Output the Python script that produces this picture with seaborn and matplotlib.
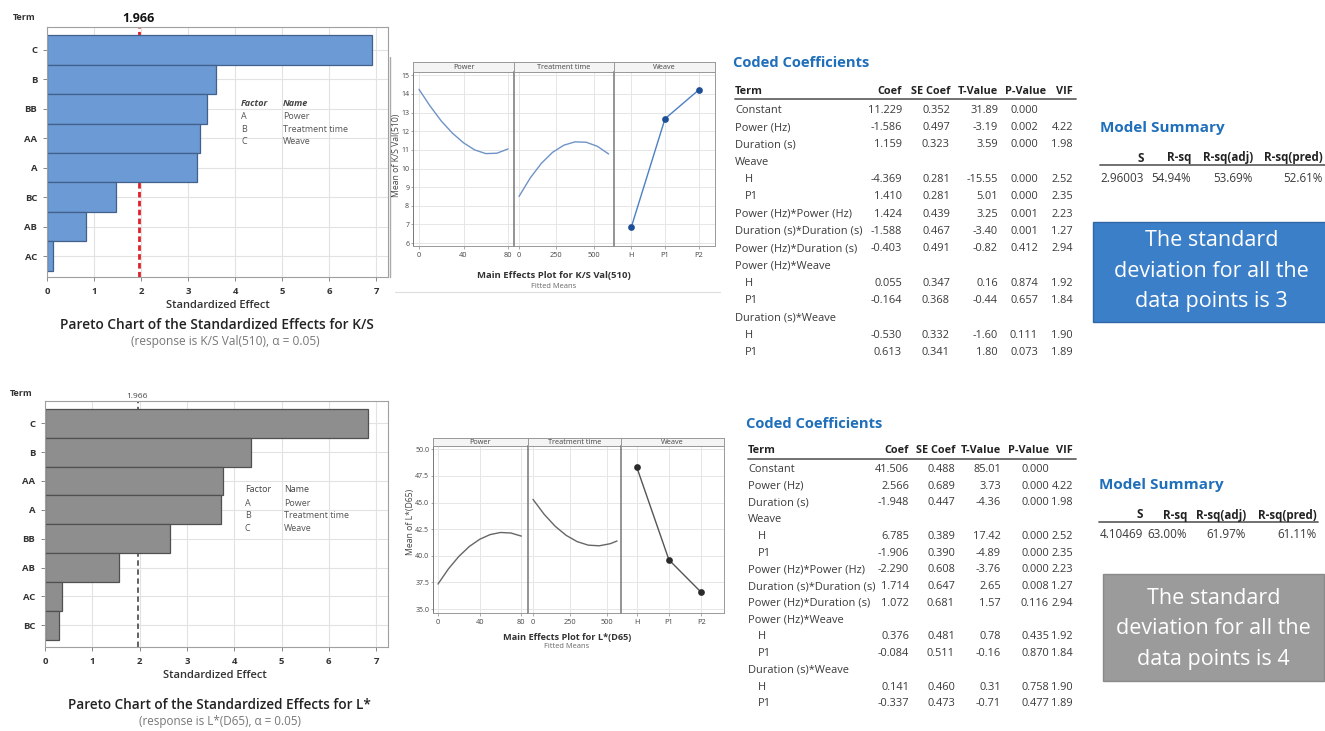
import matplotlib
matplotlib.use("Agg")
import matplotlib.pyplot as plt
from matplotlib.lines import Line2D
from matplotlib.patches import Rectangle
import seaborn as sns

# ---------------- data ----------------
factor_codes = ["A", "B", "C"]
factor_names = ["Power", "Treatment time", "Weave"]

ks_terms = ["C", "B", "BB", "AA", "A", "BC", "AB", "AC"]
ks_effects = [6.92, 3.59, 3.40, 3.25, 3.19, 1.47, 0.82, 0.13]
lstar_terms = ["C", "B", "AA", "A", "BB", "AB", "AC", "BC"]
lstar_effects = [6.82, 4.36, 3.76, 3.73, 2.65, 1.57, 0.35, 0.29]
critical_t = 1.966

power_levels = [0, 10, 20, 30, 40, 50, 60, 70, 80]
ks_power_fit = [14.25, 13.35, 12.55, 11.90, 11.38, 11.00, 10.80, 10.82, 11.05]
time_levels_ks = [0, 75, 150, 225, 300, 375, 450, 525, 600]
ks_time_fit = [8.50, 9.49, 10.28, 10.87, 11.25, 11.43, 11.41, 11.19, 10.78]
weave_levels = ["H", "P1", "P2"]
ks_weave_means = [6.84, 12.67, 14.22]

lstar_power_fit = [37.35, 38.77, 39.94, 40.87, 41.55, 41.99, 42.19, 42.14, 41.85]
time_levels_l = [0, 75, 150, 225, 300, 375, 450, 525, 570]
lstar_time_fit = [45.30, 43.91, 42.78, 41.92, 41.33, 41.00, 40.94, 41.14, 41.39]
lstar_weave_means = [48.38, 39.62, 36.56]

coef_terms = ["Constant", "Power (Hz)", "Duration (s)", "Weave", "H", "P1",
              "Power (Hz)*Power (Hz)", "Duration (s)*Duration (s)",
              "Power (Hz)*Duration (s)", "Power (Hz)*Weave", "H", "P1",
              "Duration (s)*Weave", "H", "P1"]
coef_indent = [0, 0, 0, 0, 1, 1, 0, 0, 0, 0, 1, 1, 0, 1, 1]

ks_coef = [11.229, -1.586, 1.159, None, -4.369, 1.410, 1.424, -1.588, -0.403, None, 0.055, -0.164, None, -0.530, 0.613]
ks_se = [0.352, 0.497, 0.323, None, 0.281, 0.281, 0.439, 0.467, 0.491, None, 0.347, 0.368, None, 0.332, 0.341]
ks_tval = [31.89, -3.19, 3.59, None, -15.55, 5.01, 3.25, -3.40, -0.82, None, 0.16, -0.44, None, -1.60, 1.80]
ks_pval = [0.000, 0.002, 0.000, None, 0.000, 0.000, 0.001, 0.001, 0.412, None, 0.874, 0.657, None, 0.111, 0.073]
ks_vif = [None, 4.22, 1.98, None, 2.52, 2.35, 2.23, 1.27, 2.94, None, 1.92, 1.84, None, 1.90, 1.89]

lstar_coef = [41.506, 2.566, -1.948, None, 6.785, -1.906, -2.290, 1.714, 1.072, None, 0.376, -0.084, None, 0.141, -0.337]
lstar_se = [0.488, 0.689, 0.447, None, 0.389, 0.390, 0.608, 0.647, 0.681, None, 0.481, 0.511, None, 0.460, 0.473]
lstar_tval = [85.01, 3.73, -4.36, None, 17.42, -4.89, -3.76, 2.65, 1.57, None, 0.78, -0.16, None, 0.31, -0.71]
lstar_pval = [0.000, 0.000, 0.000, None, 0.000, 0.000, 0.000, 0.008, 0.116, None, 0.435, 0.870, None, 0.758, 0.477]
lstar_vif = [None, 4.22, 1.98, None, 2.52, 2.35, 2.23, 1.27, 2.94, None, 1.92, 1.84, None, 1.90, 1.89]

summary_cols = ["S", "R-sq", "R-sq(adj)", "R-sq(pred)"]
ks_summary = ["2.96003", "54.94%", "53.69%", "52.61%"]
lstar_summary = ["4.10469", "63.00%", "61.97%", "61.11%"]
ks_note = "The standard\ndeviation for all the\ndata points is 3"
lstar_note = "The standard\ndeviation for all the\ndata points is 4"

# ---------------- figure ----------------
sns.set_theme(style="white")
plt.rcParams["font.family"] = ["Open Sans", "DejaVu Sans"]

W, H = 1325, 731
fig = plt.figure(figsize=(W / 100, H / 100), dpi=100)
fig.patch.set_facecolor("white")


def rect(x0, y0, x1, y1):
    return [x0 / W, 1 - y1 / H, (x1 - x0) / W, (y1 - y0) / H]


def txt(x, y, s, **kw):
    kw.setdefault("va", "center")
    kw.setdefault("color", "#333333")
    return fig.text(x / W, 1 - y / H, s, **kw)


def hline(x0, x1, y, color="#555555", lw=1.2):
    fig.add_artist(Line2D([x0 / W, x1 / W], [1 - y / H, 1 - y / H],
                          color=color, lw=lw, transform=fig.transFigure))


def vline(x, y0, y1, color="#999999", lw=1.0):
    fig.add_artist(Line2D([x / W, x / W], [1 - y0 / H, 1 - y1 / H],
                          color=color, lw=lw, transform=fig.transFigure))


# ---------------- Pareto charts ----------------
def pareto(box, terms, effects, ylim, fill, edge, line_kw, xmax):
    ax = fig.add_axes(rect(*box))
    sns.barplot(x=effects, y=terms, orient="h", color=fill, edgecolor=edge,
                linewidth=0.9, width=1.0, saturation=1, ax=ax)
    ax.set_axisbelow(True)
    ax.grid(True, color="#e2e2e2", lw=0.8)
    ax.axvline(critical_t, zorder=0.8, **line_kw)
    ax.set_xlim(0, xmax)
    ax.set_ylim(*ylim)
    ax.set_xticks(range(8))
    ax.set_xlabel("")
    ax.set_ylabel("")
    for s in ax.spines.values():
        s.set_color("#a0a0a0")
        s.set_linewidth(0.8)
    ax.tick_params(axis="both", length=3, width=0.7, color="#888888",
                   labelsize=6.8, labelcolor="#333333", pad=4, bottom=True, left=True)
    for lab in ax.get_yticklabels() + ax.get_xticklabels():
        lab.set_fontweight("bold")
    return ax


pareto((47, 27, 388, 277), ks_terms, ks_effects, (7.71, -0.78),
       "#6c9ad4", "#41618c",
       dict(color="#e0202a", lw=2.0, ls=(0, (2.0, 1.2))), 7.25)
txt(24, 18, "Term", ha="center", fontsize=6.5, fontweight="bold")
txt(138, 19, "1.966", ha="center", fontsize=9, fontweight="bold", color="#111111")
txt(241, 104, "Factor", fontsize=6.5, style="italic", fontweight="bold", color="#444444")
txt(283, 104, "Name", fontsize=6.5, style="italic", fontweight="bold", color="#444444")
for i, (c, n) in enumerate(zip(factor_codes, factor_names)):
    txt(241, 116.7 + 12.5 * i, c, fontsize=6.5, color="#555555")
    txt(283, 116.7 + 12.5 * i, n, fontsize=6.5, color="#555555")
txt(218, 305, "Standardized Effect", ha="center", fontsize=8, fontweight="semibold")
txt(217, 325, "Pareto Chart of the Standardized Effects for K/S", ha="center",
    fontsize=9.9, fontweight="semibold", color="#222222")
txt(225, 341, "(response is K/S Val(510), \u03b1 = 0.05)", ha="center",
    fontsize=8.6, color="#777777")

pareto((45, 401, 388, 647), lstar_terms, lstar_effects, (7.75, -0.77),
       "#8e8e8e", "#505050",
       dict(color="#555555", lw=1.3, ls=(0, (3, 2))), 7.25)
txt(21, 393, "Term", ha="center", fontsize=6.5, fontweight="bold")
txt(137, 396, "1.966", ha="center", fontsize=6, color="#444444")
txt(245, 490, "Factor", fontsize=6.5, color="#444444")
txt(284, 490, "Name", fontsize=6.5, color="#444444")
for i, (c, n) in enumerate(zip(factor_codes, factor_names)):
    txt(245, 503.3 + 12.5 * i, c, fontsize=6.5, color="#555555")
    txt(284, 503.3 + 12.5 * i, n, fontsize=6.5, color="#555555")
txt(215, 675, "Standardized Effect", ha="center", fontsize=8, fontweight="semibold")
txt(219, 705, "Pareto Chart of the Standardized Effects for L*", ha="center",
    fontsize=9.8, fontweight="semibold", color="#222222")
txt(220, 722, "(response is L*(D65), \u03b1 = 0.05)", ha="center",
    fontsize=8.4, color="#777777")


# ---------------- Main effects plots ----------------
def main_effects(xs, top, strip_h, bottom, ylim, yticks, ylabs, curves, weave,
                 xlims, xticks, line_col, marker_col, weave_line_col):
    axes = []
    for k in range(3):
        x0, x1 = xs[k], xs[k + 1]
        ax = fig.add_axes(rect(x0, top + strip_h, x1, bottom))
        if k < 2:
            lv, vals = curves[k]
            sns.lineplot(x=lv, y=vals, ax=ax, color=line_col, lw=1.0)
        else:
            sns.pointplot(x=weave_levels, y=weave, ax=ax, color=weave_line_col,
                          markers="", linewidth=1.0)
            sns.pointplot(x=weave_levels, y=weave, ax=ax, color=marker_col,
                          markers="o", linestyles="none", markersize=2.8)
        ax.set_xlim(*xlims[k])
        ax.set_ylim(*ylim)
        ax.set_yticks(yticks)
        if xticks[k] is not None:
            ax.set_xticks(xticks[k])
        ax.set_axisbelow(True)
        ax.grid(True, color="#e6e6e6", lw=0.7)
        ax.set_xlabel("")
        ax.set_ylabel("")
        for s in ax.spines.values():
            s.set_color("#999999")
            s.set_linewidth(0.7)
        ax.spines["left"].set_color("#777777")
        ax.spines["left"].set_linewidth(1.1 if k else 0.7)
        ax.tick_params(axis="x", labelsize=5.3, labelcolor="#444444",
                       length=2, width=0.5, color="#888888", pad=2.5, bottom=True)
        ax.tick_params(axis="y", labelsize=5.0, labelcolor="#444444",
                       length=1.5, width=0.5, color="#888888", pad=1.2,
                       left=(k == 0))
        if k == 0:
            ax.set_yticklabels(ylabs)
        else:
            ax.set_yticklabels([])
        # facet header
        sax = fig.add_axes(rect(x0, top, x1, top + strip_h))
        sax.set_facecolor("#f4f4f4")
        sax.set_xticks([])
        sax.set_yticks([])
        for s in sax.spines.values():
            s.set_color("#999999")
            s.set_linewidth(0.7)
        sax.text(0.5, 0.45, factor_names[k], ha="center", va="center",
                 fontsize=5.2, color="#444444", transform=sax.transAxes)
        axes.append(ax)
    return axes


main_effects([413, 514, 614, 715], 62, 10, 246, (5.84, 15.18),
             list(range(6, 16)), [str(v) for v in range(6, 16)],
             [(power_levels, ks_power_fit), (time_levels_ks, ks_time_fit)],
             ks_weave_means,
             [(-5.4, 85.4), (-33.5, 636), (-0.51, 2.48)],
             [[0, 40, 80], [0, 250, 500], None],
             "#6f93c6", "#1d4f96", "#4c7fc4")
txt(396, 155, "Mean of K/S Val(510)", ha="center", fontsize=6.2, rotation=90,
    color="#444444")
txt(554, 275, "Main Effects Plot for K/S Val(510)", ha="center", fontsize=6.8,
    fontweight="bold", color="#333333")
txt(554, 286, "Fitted Means", ha="center", fontsize=5.4, color="#666666")
vline(390, 57, 277, color="#aaaaaa", lw=1.0)
hline(395, 720, 292, color="#dddddd", lw=0.8)

main_effects([433, 528, 621, 724], 438, 8, 613, (34.63, 50.31),
             [35.0, 37.5, 40.0, 42.5, 45.0, 47.5, 50.0],
             ["35.0", "37.5", "40.0", "42.5", "45.0", "47.5", "50.0"],
             [(power_levels, lstar_power_fit), (time_levels_l, lstar_time_fit)],
             lstar_weave_means,
             [(-4.8, 86.4), (-33.8, 597), (-0.48, 2.7)],
             [[0, 40, 80], [0, 250, 500], None],
             "#666666", "#2b2b2b", "#555555")
txt(410, 522, "Mean of L*(D65)", ha="center", fontsize=6.2, rotation=90,
    color="#444444")
txt(567, 637, "Main Effects Plot for L*(D65)", ha="center", fontsize=6.6,
    fontweight="bold", color="#333333")
txt(567, 647, "Fitted Means", ha="center", fontsize=5.4, color="#666666")


# ---------------- Coefficient tables ----------------
def fmt(v, d):
    return "" if v is None else f"{v:.{d}f}"


def coef_table(x_term, title_y, head_y, rule_y, row0, dy, col_right, head_right,
               rule_x1, cols):
    txt(x_term - 2, title_y, "Coded Coefficients", fontsize=10.6,
        fontweight="bold", color="#1f6fba")
    txt(x_term, head_y, "Term", fontsize=7.8, fontweight="bold", color="#222222")
    for hx, h in zip(head_right, ["Coef", "SE Coef", "T-Value", "P-Value", "VIF"]):
        txt(hx, head_y, h, ha="right", fontsize=7.8, fontweight="bold",
            color="#222222")
    hline(x_term, rule_x1, rule_y, color="#666666", lw=1.3)
    decimals = [3, 3, 2, 3, 2]
    for i, term in enumerate(coef_terms):
        y = row0 + dy * i
        txt(x_term + 10 * coef_indent[i], y, term, fontsize=7.9, color="#3a3a3a")
        for cx, col, d in zip(col_right, cols, decimals):
            txt(cx, y, fmt(col[i], d), ha="right", fontsize=7.9, color="#3a3a3a")


coef_table(735, 63, 91.5, 98.5, 110.3, 17.3,
           [902, 950, 998, 1038, 1073], [902, 950, 998, 1046, 1073], 1076,
           [ks_coef, ks_se, ks_tval, ks_pval, ks_vif])
coef_table(748, 424, 450.5, 458.5, 469.3, 16.76,
           [909, 955, 1001, 1049, 1073], [909, 955, 1001, 1049, 1073], 1076,
           [lstar_coef, lstar_se, lstar_tval, lstar_pval, lstar_vif])


# ---------------- Model summaries ----------------
def summary(x0, title_y, head_y, rule_y, val_y, col_right, rule_x1, values,
            box, box_fill, box_edge, note, line_ys):
    txt(x0, title_y, "Model Summary", fontsize=11, fontweight="bold",
        color="#1f6fba")
    for cx, h in zip(col_right, summary_cols):
        txt(cx, head_y, h, ha="right", fontsize=8.4, fontweight="bold",
            color="#222222")
    hline(x0, rule_x1, rule_y, color="#666666", lw=1.3)
    for cx, v in zip(col_right, values):
        txt(cx, val_y, v, ha="right", fontsize=8.4, color="#3a3a3a")
    bx0, by0, bx1, by1 = box
    fig.add_artist(Rectangle((bx0 / W, 1 - by1 / H), (bx1 - bx0) / W,
                             (by1 - by0) / H, transform=fig.transFigure,
                             facecolor=box_fill, edgecolor=box_edge, lw=1.0))
    cx = (bx0 + bx1) / 2
    for y, line in zip(line_ys, note.split("\n")):
        txt(cx, y, line, ha="center", fontsize=15.5, color="white")


summary(1100, 128, 158, 164.5, 178, [1144, 1191, 1253, 1323], 1325,
        ks_summary, (1093, 222, 1330, 322), "#3c7fc9", "#2f67a6", ks_note,
        [241, 271.5, 302])
summary(1099, 485, 515, 521.5, 535, [1143, 1187, 1246, 1317], 1318,
        lstar_summary, (1103, 574, 1324, 681), "#9b9b9b", "#8a8a8a", lstar_note,
        [598, 629, 659])

fig.savefig("out.png", dpi=100)
